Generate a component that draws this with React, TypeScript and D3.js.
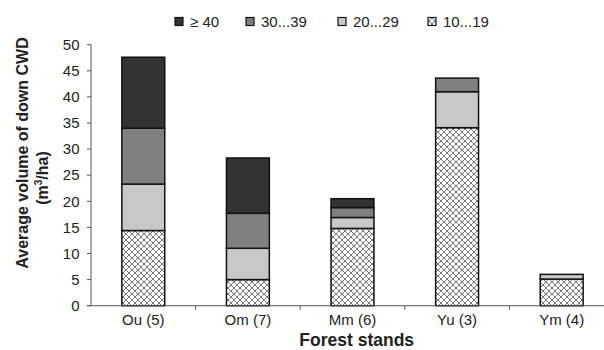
import React from 'react';
import * as d3 from 'd3';

const stands = ['Ou (5)', 'Om (7)', 'Mm (6)', 'Yu (3)', 'Ym (4)'];
const classes = ['10...19', '20...29', '30...39', '≥ 40'];
const vol10to19 = [14.4, 5.0, 14.8, 34.1, 5.1];
const vol20to29 = [8.9, 6.0, 2.1, 6.9, 0.9];
const vol30to39 = [10.7, 6.7, 1.9, 2.6, 0];
const vol40plus = [13.6, 10.6, 1.7, 0, 0];
const yTicks = [0, 5, 10, 15, 20, 25, 30, 35, 40, 45, 50];
const legendOrder = ['≥ 40', '30...39', '20...29', '10...19'];

const fills: Record<string, string> = {
  '≥ 40': '#333333',
  '30...39': '#808080',
  '20...29': '#c8c8c8',
  '10...19': 'url(#hatch)',
};

const width = 604;
const height = 350;
const font = 'Arial, "Liberation Sans", sans-serif';

export default function App() {
  const rows = stands.map((s, i) => ({
    stand: s,
    '10...19': vol10to19[i],
    '20...29': vol20to29[i],
    '30...39': vol30to39[i],
    '≥ 40': vol40plus[i],
  }));
  const series = d3.stack<any>().keys(classes)(rows);

  const x = d3.scaleBand().domain(stands).range([91, 614]);
  const y = d3.scaleLinear().domain([0, 50]).range([305.7, 44.7]);
  const barW = x.bandwidth() * 0.41;

  // legend square left edges
  const legendX = [175, 246, 338, 428];

  return (
    <svg width={width} height={height} style={{ position: 'absolute', left: 0, top: 0, background: '#fff' }} fontFamily={font}>
      <defs>
        <pattern id="hatch" patternUnits="userSpaceOnUse" width={6} height={6}>
          <rect width={6} height={6} fill="#fff" />
          <path d="M0,0 L6,6 M6,0 L0,6 M-1,5 L1,7 M5,-1 L7,1 M-1,1 L1,-1 M5,7 L7,5" stroke="#555" strokeWidth={0.8} />
        </pattern>
      </defs>

      {/* bars */}
      {series.map((s) => (
        <g key={s.key}>
          {s.map((d, i) =>
            d[1] - d[0] > 0 ? (
              <rect
                key={i}
                x={(x(stands[i]) as number) + (x.bandwidth() - barW) / 2}
                y={y(d[1])}
                width={barW}
                height={y(d[0]) - y(d[1])}
                fill={fills[s.key]}
                stroke="#111"
                strokeWidth={1.5}
              />
            ) : null
          )}
        </g>
      ))}

      {/* y axis */}
      <line x1={91} x2={91} y1={y(50)} y2={y(0)} stroke="#555" strokeWidth={1} />
      {yTicks.map((t) => (
        <g key={t}>
          <line x1={87} x2={91} y1={y(t)} y2={y(t)} stroke="#555" />
          <text x={79.5} y={y(t)} dy="0.35em" textAnchor="end" fontSize={15} fill="#222">
            {t}
          </text>
        </g>
      ))}

      {/* x axis */}
      <line x1={87} x2={width} y1={y(0)} y2={y(0)} stroke="#555" strokeWidth={1} />
      {stands.slice(1).map((s) => (
        <line key={s} x1={x(s) as number} x2={x(s) as number} y1={y(0)} y2={y(0) + 4} stroke="#555" />
      ))}
      {stands.map((s) => (
        <text key={s} x={(x(s) as number) + x.bandwidth() / 2} y={320} dy="0.35em" textAnchor="middle" fontSize={15} fill="#222">
          {s}
        </text>
      ))}
      <text x={356.7} y={345.5} textAnchor="middle" fontSize={17.5} fontWeight="bold" fill="#222">
        Forest stands
      </text>

      {/* y title */}
      <text transform="translate(22,153) rotate(-90)" textAnchor="middle" dy="0.35em" fontSize={16} fontWeight="bold" fill="#222">
        Average volume of down CWD
      </text>
      <text transform="translate(42,178) rotate(-90)" textAnchor="middle" dy="0.35em" fontSize={16} fontWeight="bold" fill="#222">
        (m<tspan fontSize={10} dy="-6">3</tspan>
        <tspan dy="6">/ha)</tspan>
      </text>

      {/* legend */}
      {legendOrder.map((k, i) => (
        <g key={k}>
          <rect x={legendX[i]} y={17.5} width={8} height={8} fill={fills[k]} stroke="#111" strokeWidth={1.2} />
          <text x={legendX[i] + 15} y={22} dy="0.35em" fontSize={15} fill="#222">
            {k}
          </text>
        </g>
      ))}
    </svg>
  );
}
